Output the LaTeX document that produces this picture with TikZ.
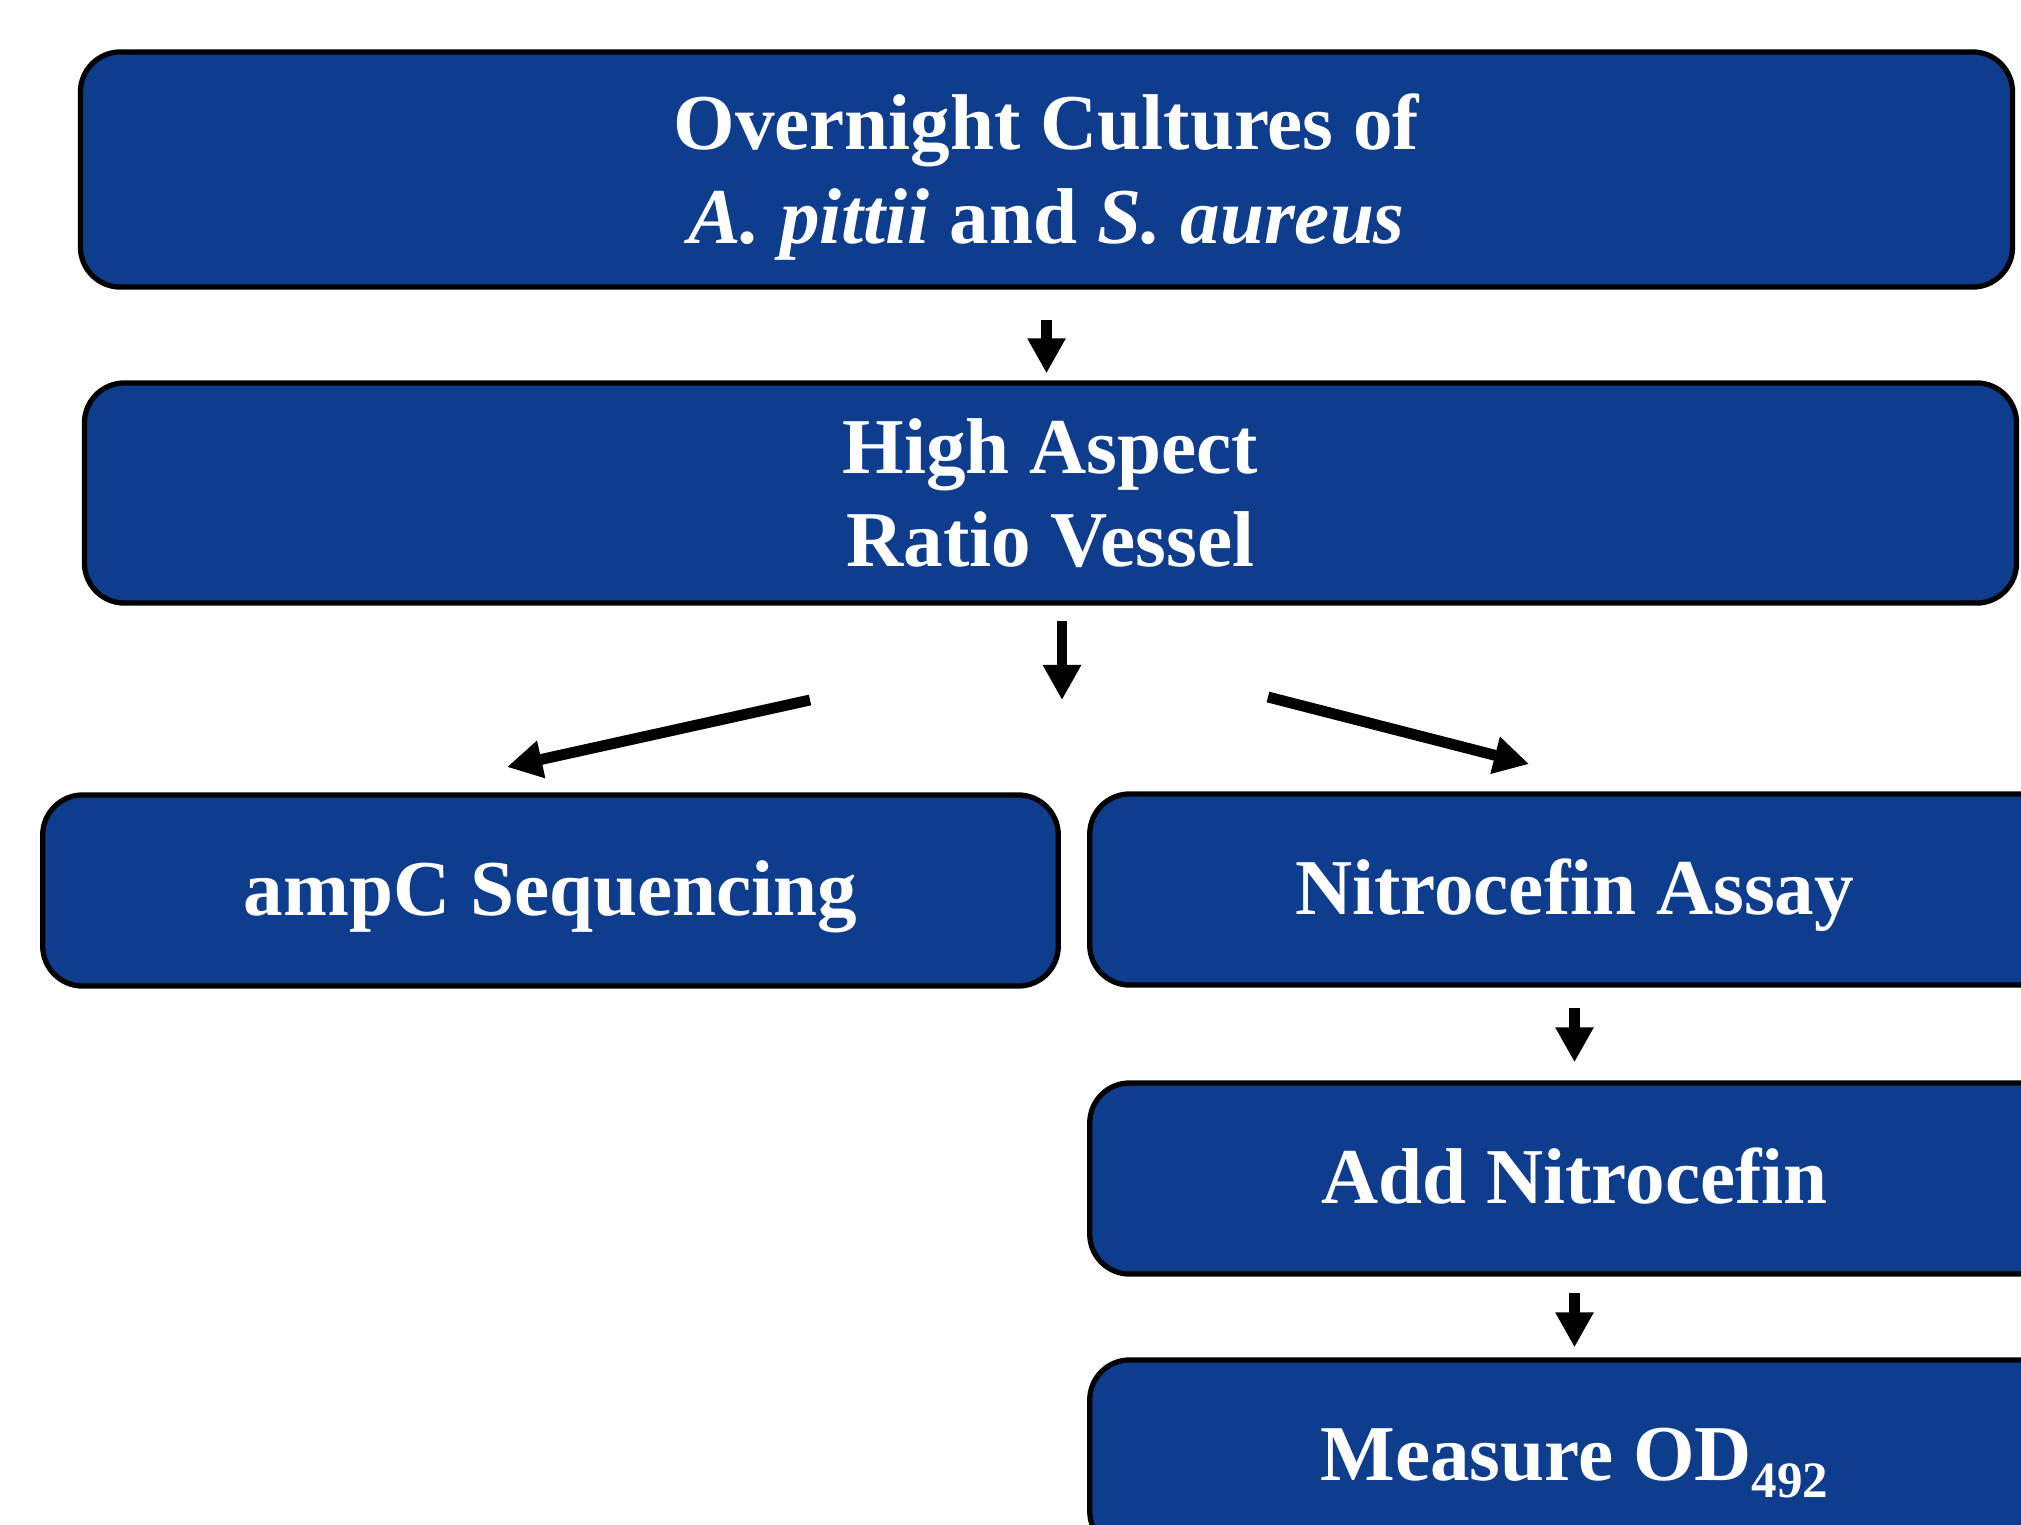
\documentclass[tikz,border=0pt]{standalone}
\usepackage{fontspec}
\setmainfont{Liberation Serif}
\usetikzlibrary{arrows.meta}
\definecolor{boxblue}{RGB}{14,61,142}
\newcommand{\twolines}[2]{\begin{tabular}[t]{@{}c@{}}#1\\#2\end{tabular}}
\newcommand{\lowsub}[1]{\raisebox{-5pt}{\fontsize{14.5}{14.5}\selectfont #1}}
\tikzset{
  stepbox/.style={draw=black, line width=1.5pt, fill=boxblue, rounded corners=0.4cm,
    text=white, font=\fontsize{22.5}{26.6}\selectfont\bfseries, inner sep=0pt,
    text height=19pt, text depth=5pt},
  twobox/.style={stepbox, text height=20pt, text depth=31.2pt},
  flowarrow/.style={line width=3.1pt, -{Triangle[length=0.35cm,width=0.36cm]}},
}
\begin{document}
\begin{tikzpicture}[x=0.01cm,y=-0.01cm]
\useasboundingbox (0,0) rectangle (2021,1524);
\clip (0,0) rectangle (2021,1524);
\node[twobox, minimum width=19.31cm, minimum height=2.35cm] (n1) at (1046.5,169.5)
  {\twolines{Overnight Cultures of}{\textit{A. pittii} and \textit{S. aureus}}};
\node[twobox, minimum width=19.31cm, minimum height=2.20cm] (n2) at (1050.5,493)
  {\twolines{High Aspect}{Ratio Vessel}};
\node[stepbox, minimum width=10.15cm, minimum height=1.91cm] (n3) at (550.5,890.5)
  {ampC Sequencing};
\node[stepbox, minimum width=9.69cm, minimum height=1.91cm] (n4) at (1574.5,889.5)
  {Nitrocefin Assay};
\node[stepbox, minimum width=9.69cm, minimum height=1.91cm] (n5) at (1574.5,1178.5)
  {Add Nitrocefin};
\node[stepbox, minimum width=9.69cm, minimum height=1.91cm] (n6) at (1574.5,1455.5)
  {Measure OD\lowsub{492}};
\coordinate (c2a) at (1062,621);
\coordinate (c2b) at (1062,700);
\coordinate (c3a) at (810,700);
\coordinate (c3b) at (507,767);
\coordinate (c4a) at (1268,697);
\coordinate (c4b) at (1529,764);
\draw[flowarrow, shorten <=0.30cm, shorten >=0.07cm] (n1.south) -- (n1.south |- n2.north);
\draw[flowarrow] (c2a) -- (c2b);
\draw[flowarrow] (c3a) -- (c3b);
\draw[flowarrow] (c4a) -- (c4b);
\draw[flowarrow, shorten <=0.20cm, shorten >=0.18cm] (n4.south) -- (n5.north);
\draw[flowarrow, shorten <=0.16cm, shorten >=0.10cm] (n5.south) -- (n6.north);
\end{tikzpicture}
\end{document}
